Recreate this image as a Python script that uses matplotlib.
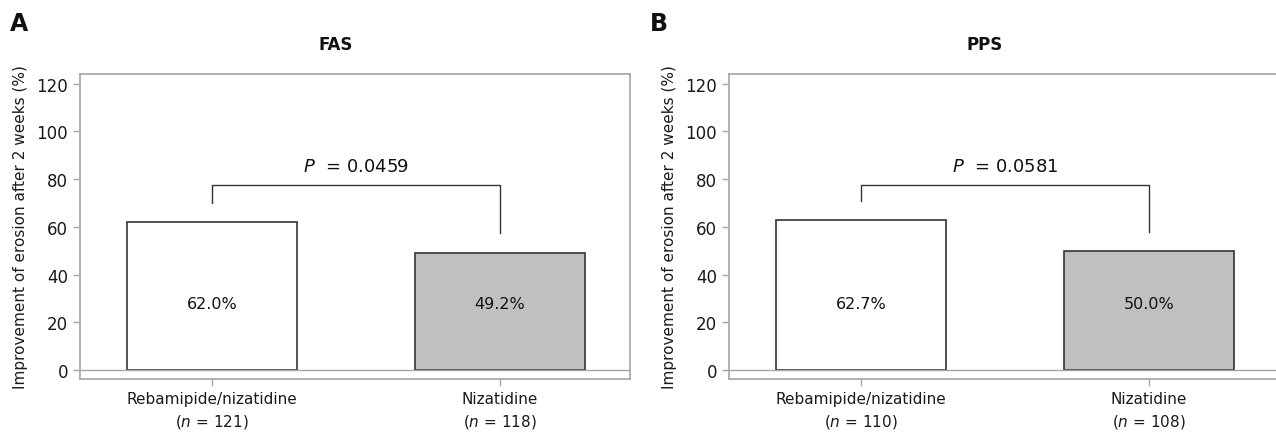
import matplotlib.pyplot as plt

# data
groups = ['Rebamipide/nizatidine', 'Nizatidine']
fas_values = [62.0, 49.2]
fas_n = [121, 118]
fas_p = '0.0459'
pps_values = [62.7, 50.0]
pps_n = [110, 108]
pps_p = '0.0581'

colors = ['white', '#c0c0c0']
grey = '#a6a6a6'

plt.rcParams['font.family'] = 'DejaVu Sans'

fig = plt.figure(figsize=(12.76, 4.35), dpi=100)


def panel(ax, values, ns, pval, title, title_dx):
    x = [0, 1]
    ax.bar(x, values, width=0.59, color=colors, edgecolor='#333333', linewidth=1.2, zorder=2)
    ax.axhline(0, color=grey, linewidth=1.0, zorder=3)
    ax.set_xlim(-0.458, 1.452)
    ax.set_ylim(-3.8, 124)
    ax.set_yticks([0, 20, 40, 60, 80, 100, 120])
    ax.set_xticks(x)
    ax.set_xticklabels([f'{g}\n($\\it{{n}}$ = {n})' for g, n in zip(groups, ns)],
                       fontsize=11, linespacing=1.45)
    ax.tick_params(axis='both', colors=grey, labelcolor='#1a1a1a', length=5, width=1)
    ax.tick_params(axis='y', labelsize=12)
    for s in ax.spines.values():
        s.set_color(grey)
        s.set_linewidth(1.2)
    ax.set_ylabel('Improvement of erosion after 2 weeks (%)', fontsize=11, color='#1a1a1a', labelpad=6)

    # value labels
    for xi, v in zip(x, values):
        ax.text(xi, 28, f'{v:.1f}%', ha='center', va='center', fontsize=11.5, color='#111111', zorder=4)

    # bracket
    top = 77.5
    ax.plot([0, 0, 1, 1], [values[0] + 8, top, top, values[1] + 8], color='#333333', linewidth=1.0)
    ax.text(0.5, top + 4, f'$\\it{{P}}$  = {pval}', ha='center', va='bottom', fontsize=13, color='#111111')

    ax.text(0.5 + title_dx, 1.098, title, transform=ax.transAxes, ha='center', va='center',
            fontsize=12, fontweight='bold', color='#111111')
    return ax


axA = fig.add_axes([0.0627, 0.1264, 0.431, 0.701])
panel(axA, fas_values, fas_n, fas_p, 'FAS', -0.035)
axB = fig.add_axes([0.5713, 0.1264, 0.431, 0.701])
panel(axB, pps_values, pps_n, pps_p, 'PPS', -0.035)

fig.text(0.008, 0.945, 'A', fontsize=17, fontweight='bold', va='center', ha='left', color='#111111')
fig.text(0.509, 0.945, 'B', fontsize=17, fontweight='bold', va='center', ha='left', color='#111111')

plt.savefig('out.png', dpi=100, facecolor='white')
